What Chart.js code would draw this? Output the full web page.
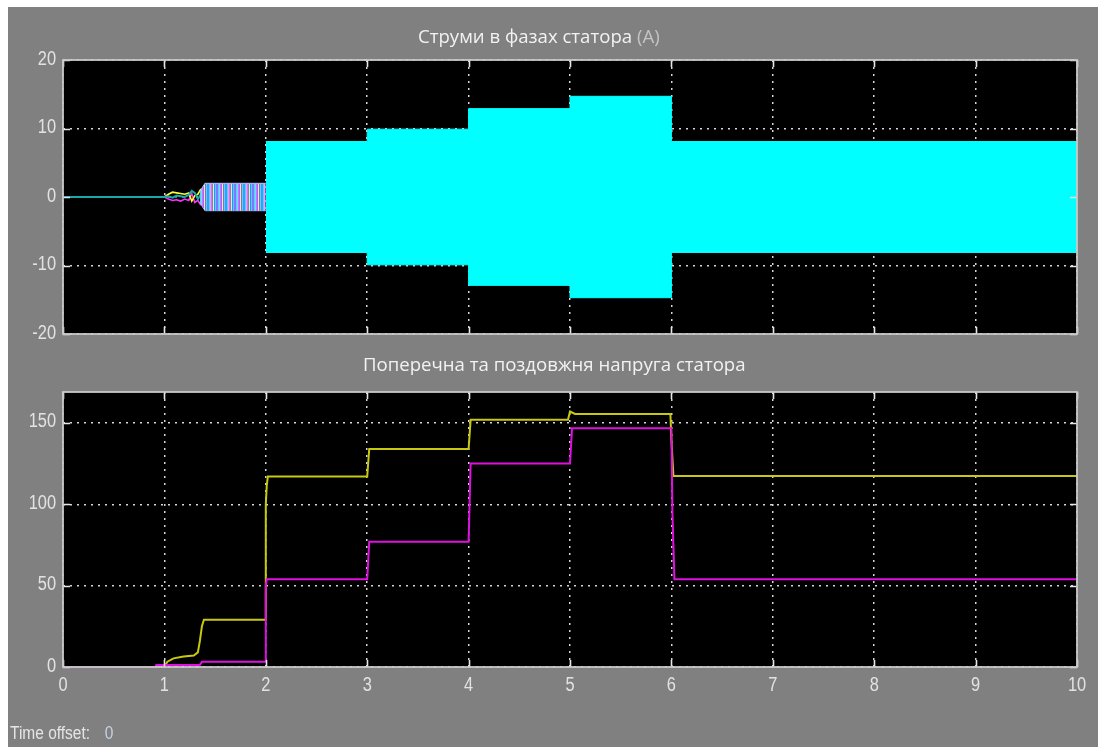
<!DOCTYPE html>
<html>
<head>
<meta charset="utf-8">
<script src="https://cdn.jsdelivr.net/npm/chart.js@4.4.1/dist/chart.umd.min.js"></script>
<style>
  html, body { margin: 0; padding: 0; background: #ffffff; overflow: hidden; }
  #panel { position: absolute; left: 8px; top: 7px; width: 1090px; height: 740px; background: #808080; }
  canvas { position: absolute; left: 0; }
  #c1 { top: 0; }
  #c2 { top: 345px; }
  #offset { position: absolute; left: 10px; top: 723px; font: 18px 'Liberation Sans', Arial, sans-serif; color: #e4e4e4; white-space: pre; transform: scaleX(0.86); transform-origin: 0 0; }
  #offset span { color: #c6d2e2; margin-left: 12px; }
</style>
</head>
<body>
<div id="panel"></div>
<canvas id="c1" width="1098" height="345"></canvas>
<canvas id="c2" width="1098" height="402"></canvas>
<div id="offset">Time offset: <span>0</span></div>
<script>
// ---- axes ----
const timeTicks    = [0, 1, 2, 3, 4, 5, 6, 7, 8, 9, 10];
const currentTicks = [-20, -10, 0, 10, 20];
const voltageTicks = [0, 50, 100, 150];

// ---- stator phase currents (A) ----
// start-up transient of the three phases
const phaseT = [0, 1.0, 1.04, 1.08, 1.12, 1.16, 1.2, 1.24, 1.27, 1.3, 1.33, 1.36];
const phaseA = [0, 0, 0.4, 0.7, 0.6, 0.5, 0.4, 0.6, -0.6, 0.2, 0.4, 1.2];
const phaseB = [0, 0, -0.3, -0.5, -0.4, -0.6, -0.3, -0.5, 0.5, -0.8, -0.5, -1.2];
const phaseC = [0, 0, 0.1, -0.1, 0.2, 0.1, 0.0, 0.3, 0.9, 0.6, -0.3, 0.4];
// low-amplitude ripple before the load step
const rippleT = [1.35, 1.40, 2.0];
const rippleA = [0.8, 2.0, 2.0];
// amplitude of the steady oscillation after each load step
const stepT = [2, 3, 4, 5, 6, 10];
const stepA = [8.1, 9.9, 12.9, 14.7, 8.1, 8.1];

// ---- quadrature / direct stator voltage ----
const uqT = [0, 1.0, 1.03, 1.09, 1.19, 1.29, 1.33, 1.35, 1.37, 1.39, 2.0, 2.0, 2.01, 2.02, 3.0, 3.02, 4.0, 4.02, 4.98, 5.0, 5.05, 5.99, 6.0, 6.02, 10];
const uqV = [0, 0, 3.3, 5.3, 6.4, 7.0, 9, 16, 25, 29, 29, 100, 112, 117, 117, 134, 134, 152, 152, 157, 155.5, 155.5, 139.5, 117.4, 117.4];
const udT = [0, 0.91, 0.92, 1.35, 1.37, 2.0, 2.0, 2.0, 2.01, 3.0, 3.02, 4.0, 4.02, 5.0, 5.02, 6.0, 6.01, 6.03, 10];
const udV = [0, 0, 1.2, 1.2, 3.3, 3.3, 35, 50, 54, 54, 77, 77, 125, 125, 146.7, 146.7, 94.5, 54, 54];

const pts = (ts, vs, k = 1) => ts.map((t, i) => ({ x: t, y: vs[i] * k }));

const TICK_COLOR = '#e2e2e2';
const TICK_FONT = "20px 'Liberation Sans', Arial, sans-serif";
const NARROW = 0.82;

// striped fill for the mixed three-phase ripple
function stripes() {
  const cols = ['#7a7aff', '#7a7aff', '#19f0ff', '#b8b8ff', '#ff5cff', '#7a7aff', '#f4f47a', '#6f6fff', '#19f0ff'];
  const c = document.createElement('canvas');
  c.width = cols.length; c.height = 1;
  const g = c.getContext('2d');
  cols.forEach((col, i) => { g.fillStyle = col; g.fillRect(i, 0, 1, 1); });
  return g.createPattern(c, 'repeat');
}

function narrowText(ctx, txt, x, y, align) {
  ctx.save();
  ctx.translate(x, y);
  ctx.scale(NARROW, 1);
  ctx.textAlign = align;
  ctx.fillText(txt, 0, 0);
  ctx.restore();
}

// black plotting area, inner tick marks, light frame and narrow tick labels
function scopeFrame(showX) {
  return {
    id: 'scopeFrame',
    beforeDraw(chart) {
      const { ctx, chartArea: a } = chart;
      ctx.save();
      ctx.fillStyle = '#000000';
      ctx.fillRect(a.left, a.top, a.width, a.height);
      ctx.restore();
    },
    afterDatasetsDraw(chart) {
      const { ctx, chartArea: a, scales } = chart;
      const tl = 7;
      ctx.save();
      ctx.strokeStyle = '#e6e6e6';
      ctx.lineWidth = 1.6;
      ctx.beginPath();
      scales.x.ticks.forEach(t => {
        const px = Math.round(scales.x.getPixelForValue(t.value)) + 0.5;
        ctx.moveTo(px, a.top); ctx.lineTo(px, a.top + tl);
        ctx.moveTo(px, a.bottom); ctx.lineTo(px, a.bottom - tl);
      });
      scales.y.ticks.forEach(t => {
        const py = Math.round(scales.y.getPixelForValue(t.value)) + 0.5;
        ctx.moveTo(a.left, py); ctx.lineTo(a.left + tl, py);
        ctx.moveTo(a.right, py); ctx.lineTo(a.right - tl, py);
      });
      ctx.stroke();
      ctx.strokeStyle = '#c8c8c8';
      ctx.lineWidth = 1.8;
      ctx.strokeRect(a.left, a.top, a.width, a.height);

      ctx.font = TICK_FONT;
      ctx.fillStyle = TICK_COLOR;
      ctx.textBaseline = 'middle';
      scales.y.ticks.forEach(t => {
        narrowText(ctx, t.label, a.left - 7, scales.y.getPixelForValue(t.value) - 1, 'right');
      });
      if (showX) {
        scales.x.ticks.forEach(t => {
          narrowText(ctx, t.label, scales.x.getPixelForValue(t.value), a.bottom + 18, 'center');
        });
      }
      ctx.restore();
    }
  };
}

function titlePlugin(parts, x, y) {
  return {
    id: 'scopeTitle',
    afterDraw(chart) {
      const ctx = chart.ctx;
      ctx.save();
      ctx.font = "18.6px 'Open Sans', 'Noto Sans', sans-serif";
      ctx.textBaseline = 'middle';
      ctx.textAlign = 'left';
      let cx = x;
      parts.forEach(([txt, col]) => {
        ctx.fillStyle = col;
        ctx.fillText(txt, cx, y);
        cx += ctx.measureText(txt).width;
      });
      ctx.restore();
    }
  };
}

function axes(yMin, yMax, yTicks) {
  return {
    x: {
      type: 'linear', min: 0, max: 10,
      afterBuildTicks: s => { s.ticks = timeTicks.map(v => ({ value: v })); },
      afterFit: s => { s.height = 0; },
      grid: { color: '#d6d6d6', lineWidth: 1.5, drawTicks: false },
      border: { display: false, dash: [2, 5] },
      ticks: { display: false }
    },
    y: {
      type: 'linear', min: yMin, max: yMax,
      afterBuildTicks: s => { s.ticks = yTicks.map(v => ({ value: v })); },
      afterFit: s => { s.width = 63; },
      grid: { color: '#d6d6d6', lineWidth: 1.5, drawTicks: false },
      border: { display: false, dash: [2, 5] },
      ticks: { display: false }
    }
  };
}

const common = {
  responsive: false,
  animation: false,
  events: [],
  plugins: { legend: { display: false }, tooltip: { enabled: false } },
  elements: { point: { radius: 0 }, line: { tension: 0 } }
};

// ---- upper scope: phase currents (lower dataset index is drawn on top) ----
new Chart(document.getElementById('c1'), {
  type: 'line',
  data: {
    datasets: [
      { data: pts(stepT, stepA), borderColor: '#00ffff', borderWidth: 1, stepped: true, fill: '+1', backgroundColor: '#00ffff' },
      { data: pts(stepT, stepA, -1), borderColor: '#00ffff', borderWidth: 1, stepped: true },
      { data: pts(rippleT, rippleA), borderColor: '#c0c0ff', borderWidth: 1, fill: '+1', backgroundColor: stripes() },
      { data: pts(rippleT, rippleA, -1), borderColor: '#c0c0ff', borderWidth: 1 },
      { data: pts(phaseT, phaseC), borderColor: '#1aa8a8', borderWidth: 2 },
      { data: pts(phaseT, phaseA), borderColor: '#ffff30', borderWidth: 1.6 },
      { data: pts(phaseT, phaseB), borderColor: '#ff30ff', borderWidth: 1.6 }
    ]
  },
  options: Object.assign({}, common, {
    layout: { padding: { left: 0, right: 21, top: 60, bottom: 11 } },
    scales: axes(-20, 20, currentTicks)
  }),
  plugins: [scopeFrame(false), titlePlugin([['Струми в фазах статора ', '#f2f2f2'], ['(А)', '#c4c4c4']], 418, 38)]
});

// ---- lower scope: stator voltages ----
new Chart(document.getElementById('c2'), {
  type: 'line',
  data: {
    datasets: [
      { data: pts(udT, udV), borderColor: '#e010e0', borderWidth: 2 },
      { data: pts(uqT, uqV), borderColor: '#c8c810', borderWidth: 2 }
    ]
  },
  options: Object.assign({}, common, {
    layout: { padding: { left: 0, right: 21, top: 47, bottom: 80 } },
    scales: axes(0, 169, voltageTicks)
  }),
  plugins: [scopeFrame(true), titlePlugin([['Поперечна та поздовжня напруга статора', '#f2f2f2']], 363, 21)]
});
</script>
</body>
</html>
